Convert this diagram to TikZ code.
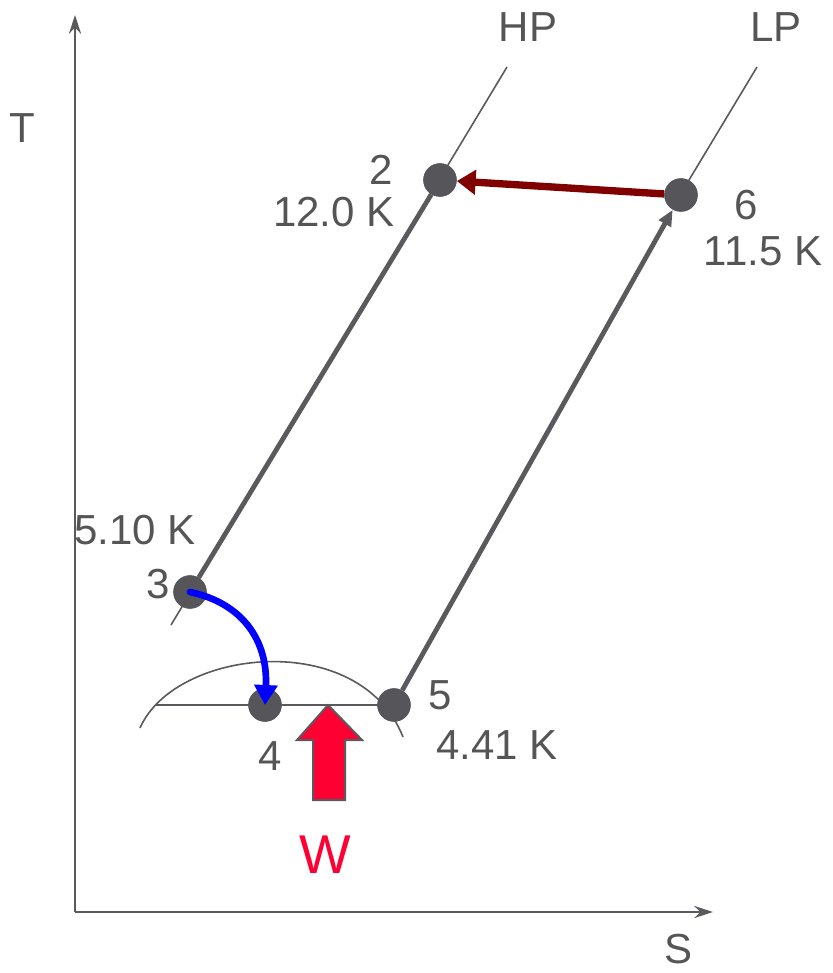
\documentclass[tikz,border=0pt]{standalone}
\usepackage{fontspec}
\setmainfont{Liberation Sans}
\usetikzlibrary{arrows.meta}
\definecolor{ln}{HTML}{5A5A5E}
\definecolor{dotc}{HTML}{55555A}
\definecolor{txt}{HTML}{555555}
\definecolor{dred}{HTML}{800000}
\definecolor{wred}{HTML}{FF0033}
\begin{document}
\begin{tikzpicture}[x=0.75pt,y=-0.75pt,
  dot/.style={circle,fill=dotc,inner sep=0pt,minimum size=25pt},
  lbl/.style={text=txt,font=\fontsize{31.5}{36}\selectfont,inner sep=0pt},
  thin/.style={draw=ln,line width=1.2pt},
  thickl/.style={draw=ln,line width=3.6pt},
  axis/.style={draw=ln,line width=2.2pt,-{Stealth[length=14pt,width=9pt]}}]
\useasboundingbox (0,0) rectangle (832,973);
% axes
\coordinate (o) at (75,912);
\coordinate (ytop) at (75,15);
\coordinate (xend) at (713,912);
\draw[axis] (o) -- (ytop);
\draw[axis] (o) -- (xend);
\node[lbl] (tl) at (22,128) {T};
\node[lbl] (sl) at (678,949) {S};
% isobars
\coordinate (hpt) at (507,67);
\coordinate (hpb) at (171,625);
\coordinate (lpt) at (757,67);
\draw[thin] (hpt) -- (hpb);
\draw[thin] (lpt) -- (680,195);
\node[lbl] (hp) at (528,27) {HP};
\node[lbl] (lp) at (776,27) {LP};
% dome
\coordinate (dl) at (140,728);
\coordinate (dr) at (403,737);
\draw[thin] (dl) .. controls (175,648) and (360,628) .. (dr);
\coordinate (hl) at (155,705);
% points
\node[dot] (p2) at (440,180) {};
\node[dot] (p3) at (190,592) {};
\node[dot] (p4) at (265,705) {};
\node[dot] (p5) at (394,705) {};
\node[dot] (p6) at (681,195) {};
\draw[thin] (hl) -- (p5.center);
\draw[thickl] (p2) -- (p3);
\draw[thickl,-{Triangle[length=12pt,width=10pt]}] (p5) -- (p6);
\node[dot] at (p4) {};
\node[dot] at (p5) {};
\node[dot] at (p6) {};
\node[dot] at (p2) {};
\node[dot] at (p3) {};
\draw[draw=dred,line width=5.5pt,-{Triangle[length=14pt,width=18pt]}] (p6) -- (p2);
\draw[draw=blue,line width=5pt,line cap=round,-{Triangle[length=15pt,width=17pt]}] (p3.center) .. controls (242,603) and (268,640) .. (p4.center);
% W arrow
\draw[fill=wred,draw=ln,line width=1.5pt] (328,705) -- (362,740) -- (345,740) -- (345,800) -- (313,800) -- (313,740) -- (297,740) -- cycle;
\node[text=wred,font=\fontsize{41}{46}\selectfont,inner sep=0pt] (w) at (325,855) {W};
% labels
\node[lbl] (l2) at (381,170) {2};
\node[lbl] (t2) at (334,212) {12.0 K};
\node[lbl] (l6) at (746,205) {6};
\node[lbl] (t6) at (763,251) {11.5 K};
\node[lbl] (t3) at (135,530) {5.10 K};
\node[lbl] (l3) at (158,584) {3};
\node[lbl] (l5) at (440,695) {5};
\node[lbl] (t5) at (497,745) {4.41 K};
\node[lbl] (l4) at (270,756) {4};
\end{tikzpicture}
\end{document}
